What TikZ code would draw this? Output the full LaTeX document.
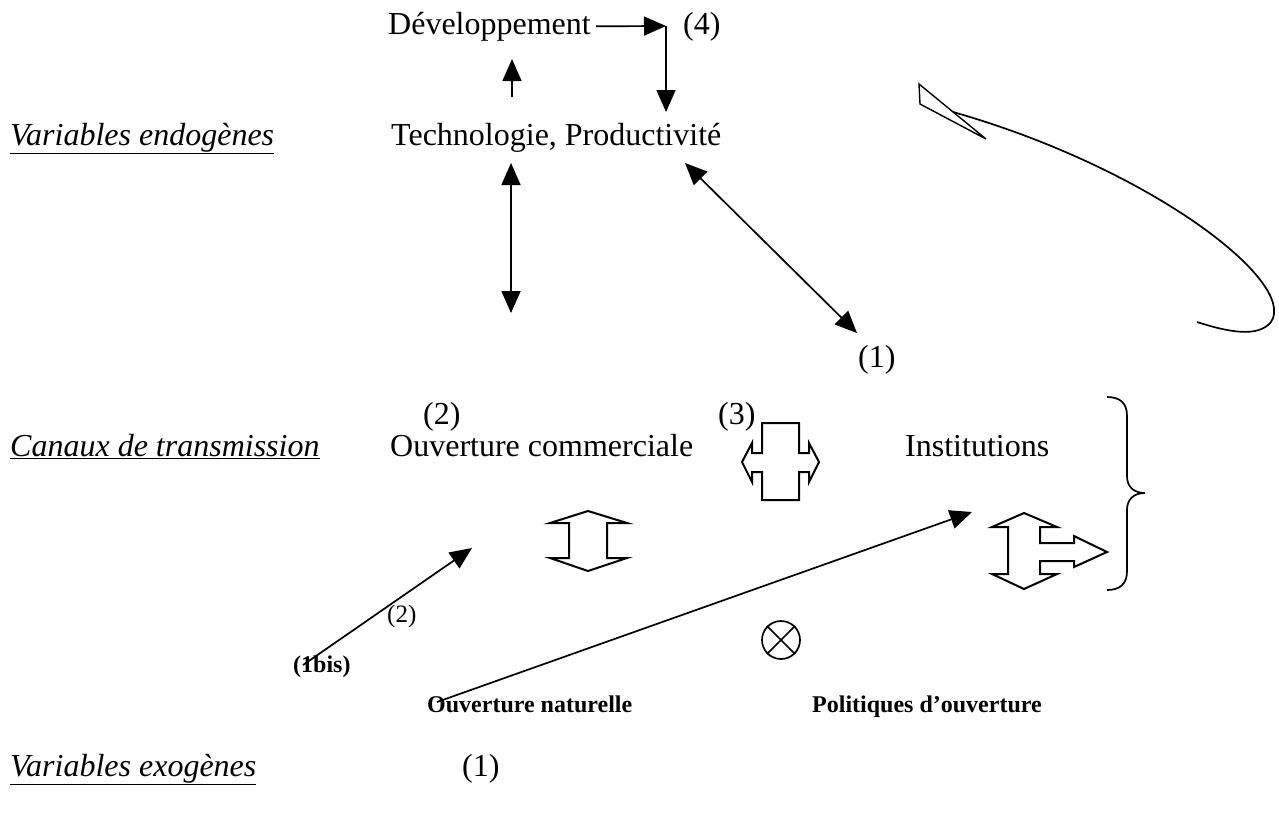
\documentclass[tikz,border=0pt]{standalone}
\usepackage{fontspec}
\setmainfont{Liberation Serif}
\usetikzlibrary{arrows.meta}

\tikzset{
  lbl/.style={anchor=base west,inner sep=0pt,font=\fontsize{32}{38}\selectfont},
  lblsmall/.style={anchor=base west,inner sep=0pt,font=\fontsize{25}{30}\selectfont},
  lblbold/.style={anchor=base west,inner sep=0pt,font=\fontsize{24}{29}\selectfont\bfseries},
  arr/.style={line width=1.7pt,-{Triangle[length=22pt,width=19pt]}},
  darr/.style={line width=1.7pt,{Triangle[length=22pt,width=19pt]}-{Triangle[length=22pt,width=19pt]}},
  blockarr/.style={line width=2pt,line join=miter},
}

\begin{document}
\begin{tikzpicture}[x=1pt,y=-1pt]
\useasboundingbox (0,0) rectangle (1279,814);

% endogenous level
\node[lbl] (dev) at (388,34) {Développement};
\node[lbl] (four) at (683,34) {(4)};
\node[lbl] (tech) at (391,145) {Technologie, Productivité};
\node[lbl] (endo) at (10,145) {\underline{\textit{Variables endogènes}}};
\node[lbl] (one) at (858,367) {(1)};

\coordinate (corner) at (666,26);
\coordinate (upfoot) at (512,97);
\coordinate (uptip) at (512,59);
\coordinate (downtip) at (666,112);
\coordinate (vtop) at (511,163);
\coordinate (vbot) at (511,313);
\coordinate (dtop) at (685,163);
\coordinate (dbot) at (857,333);

\draw[arr] ([xshift=5pt]dev.east) -- (corner);
\draw[arr] (corner) -- (downtip);
\draw[arr] (upfoot) -- (uptip);
\draw[darr] (vtop) -- (vbot);
\draw[darr] (dtop) -- (dbot);

% feedback loop
\draw[line width=1.7pt] (953,112) .. controls (1150,168) and (1298,282) .. (1271,322)
  .. controls (1258,338) and (1228,332) .. (1197,322);
\draw[line width=1.4pt,line join=miter] (919,84) -- (920,104) -- (986,139) -- cycle;

% transmission channels
\node[lbl] (two) at (423,424) {(2)};
\node[lbl] (three) at (718,424) {(3)};
\node[lbl] (canaux) at (10,456) {\underline{\textit{Canaux de transmission}}};
\node[lbl] (ouvcom) at (390,456) {Ouverture commerciale};
\node[lbl] (inst) at (905,456) {Institutions};

% block arrow (3)
\draw[blockarr] (762,423) -- (762,453) -- (752,453) -- (752,443) -- (742,462) -- (752,482)
  -- (752,472) -- (762,472) -- (762,500) -- (799,500) -- (799,472) -- (809,472)
  -- (809,482) -- (819,462) -- (809,443) -- (809,453) -- (799,453) -- (799,423) -- cycle;
% block arrow below Ouverture commerciale
\draw[blockarr] (588,511) -- (627,523) -- (607,523) -- (607,558) -- (627,558) -- (588,571)
  -- (550,558) -- (569,558) -- (569,523) -- (550,523) -- cycle;
% block arrow below Institutions
\draw[blockarr] (1024,513) -- (1057,527) -- (1040,527) -- (1040,543) -- (1074,543) -- (1074,536)
  -- (1107,552) -- (1074,567) -- (1074,561) -- (1040,561) -- (1040,574) -- (1057,574)
  -- (1024,589) -- (992,574) -- (1008,574) -- (1008,527) -- (992,527) -- cycle;
% brace
\draw[line width=1.7pt] (1107,397) .. controls (1120,397) and (1127,403) .. (1127,416) -- (1127,476)
  .. controls (1127,487) and (1134,493) .. (1145,493)
  .. controls (1134,493) and (1127,499) .. (1127,510) -- (1127,571)
  .. controls (1127,584) and (1120,590) .. (1107,590);

% exogenous level
\node[lblbold] (onebis) at (293,672) {(1bis)};
\node[lblsmall] (twosmall) at (387,622) {(2)};
\node[lblbold] (ouvnat) at (427,712) {Ouverture naturelle};
\node[lblbold] (polit) at (812,712) {Politiques d’ouverture};
\node[draw,circle,line width=1.7pt,minimum size=38pt,inner sep=0pt] (otimes) at (781,640) {};
\draw[line width=1.7pt] (otimes.north west) -- (otimes.south east)
  (otimes.north east) -- (otimes.south west);
\node[lbl] (exo) at (10,776) {\underline{\textit{Variables exogènes}}};
\node[lbl] (oneexo) at (462,776) {(1)};

\coordinate (bisstart) at (303,665);
\coordinate (comtip) at (472,548);
\coordinate (natstart) at (437,702);
\coordinate (insttip) at (972,512);
\draw[arr] (bisstart) -- (comtip);
\draw[arr] (natstart) -- (insttip);
\end{tikzpicture}
\end{document}
